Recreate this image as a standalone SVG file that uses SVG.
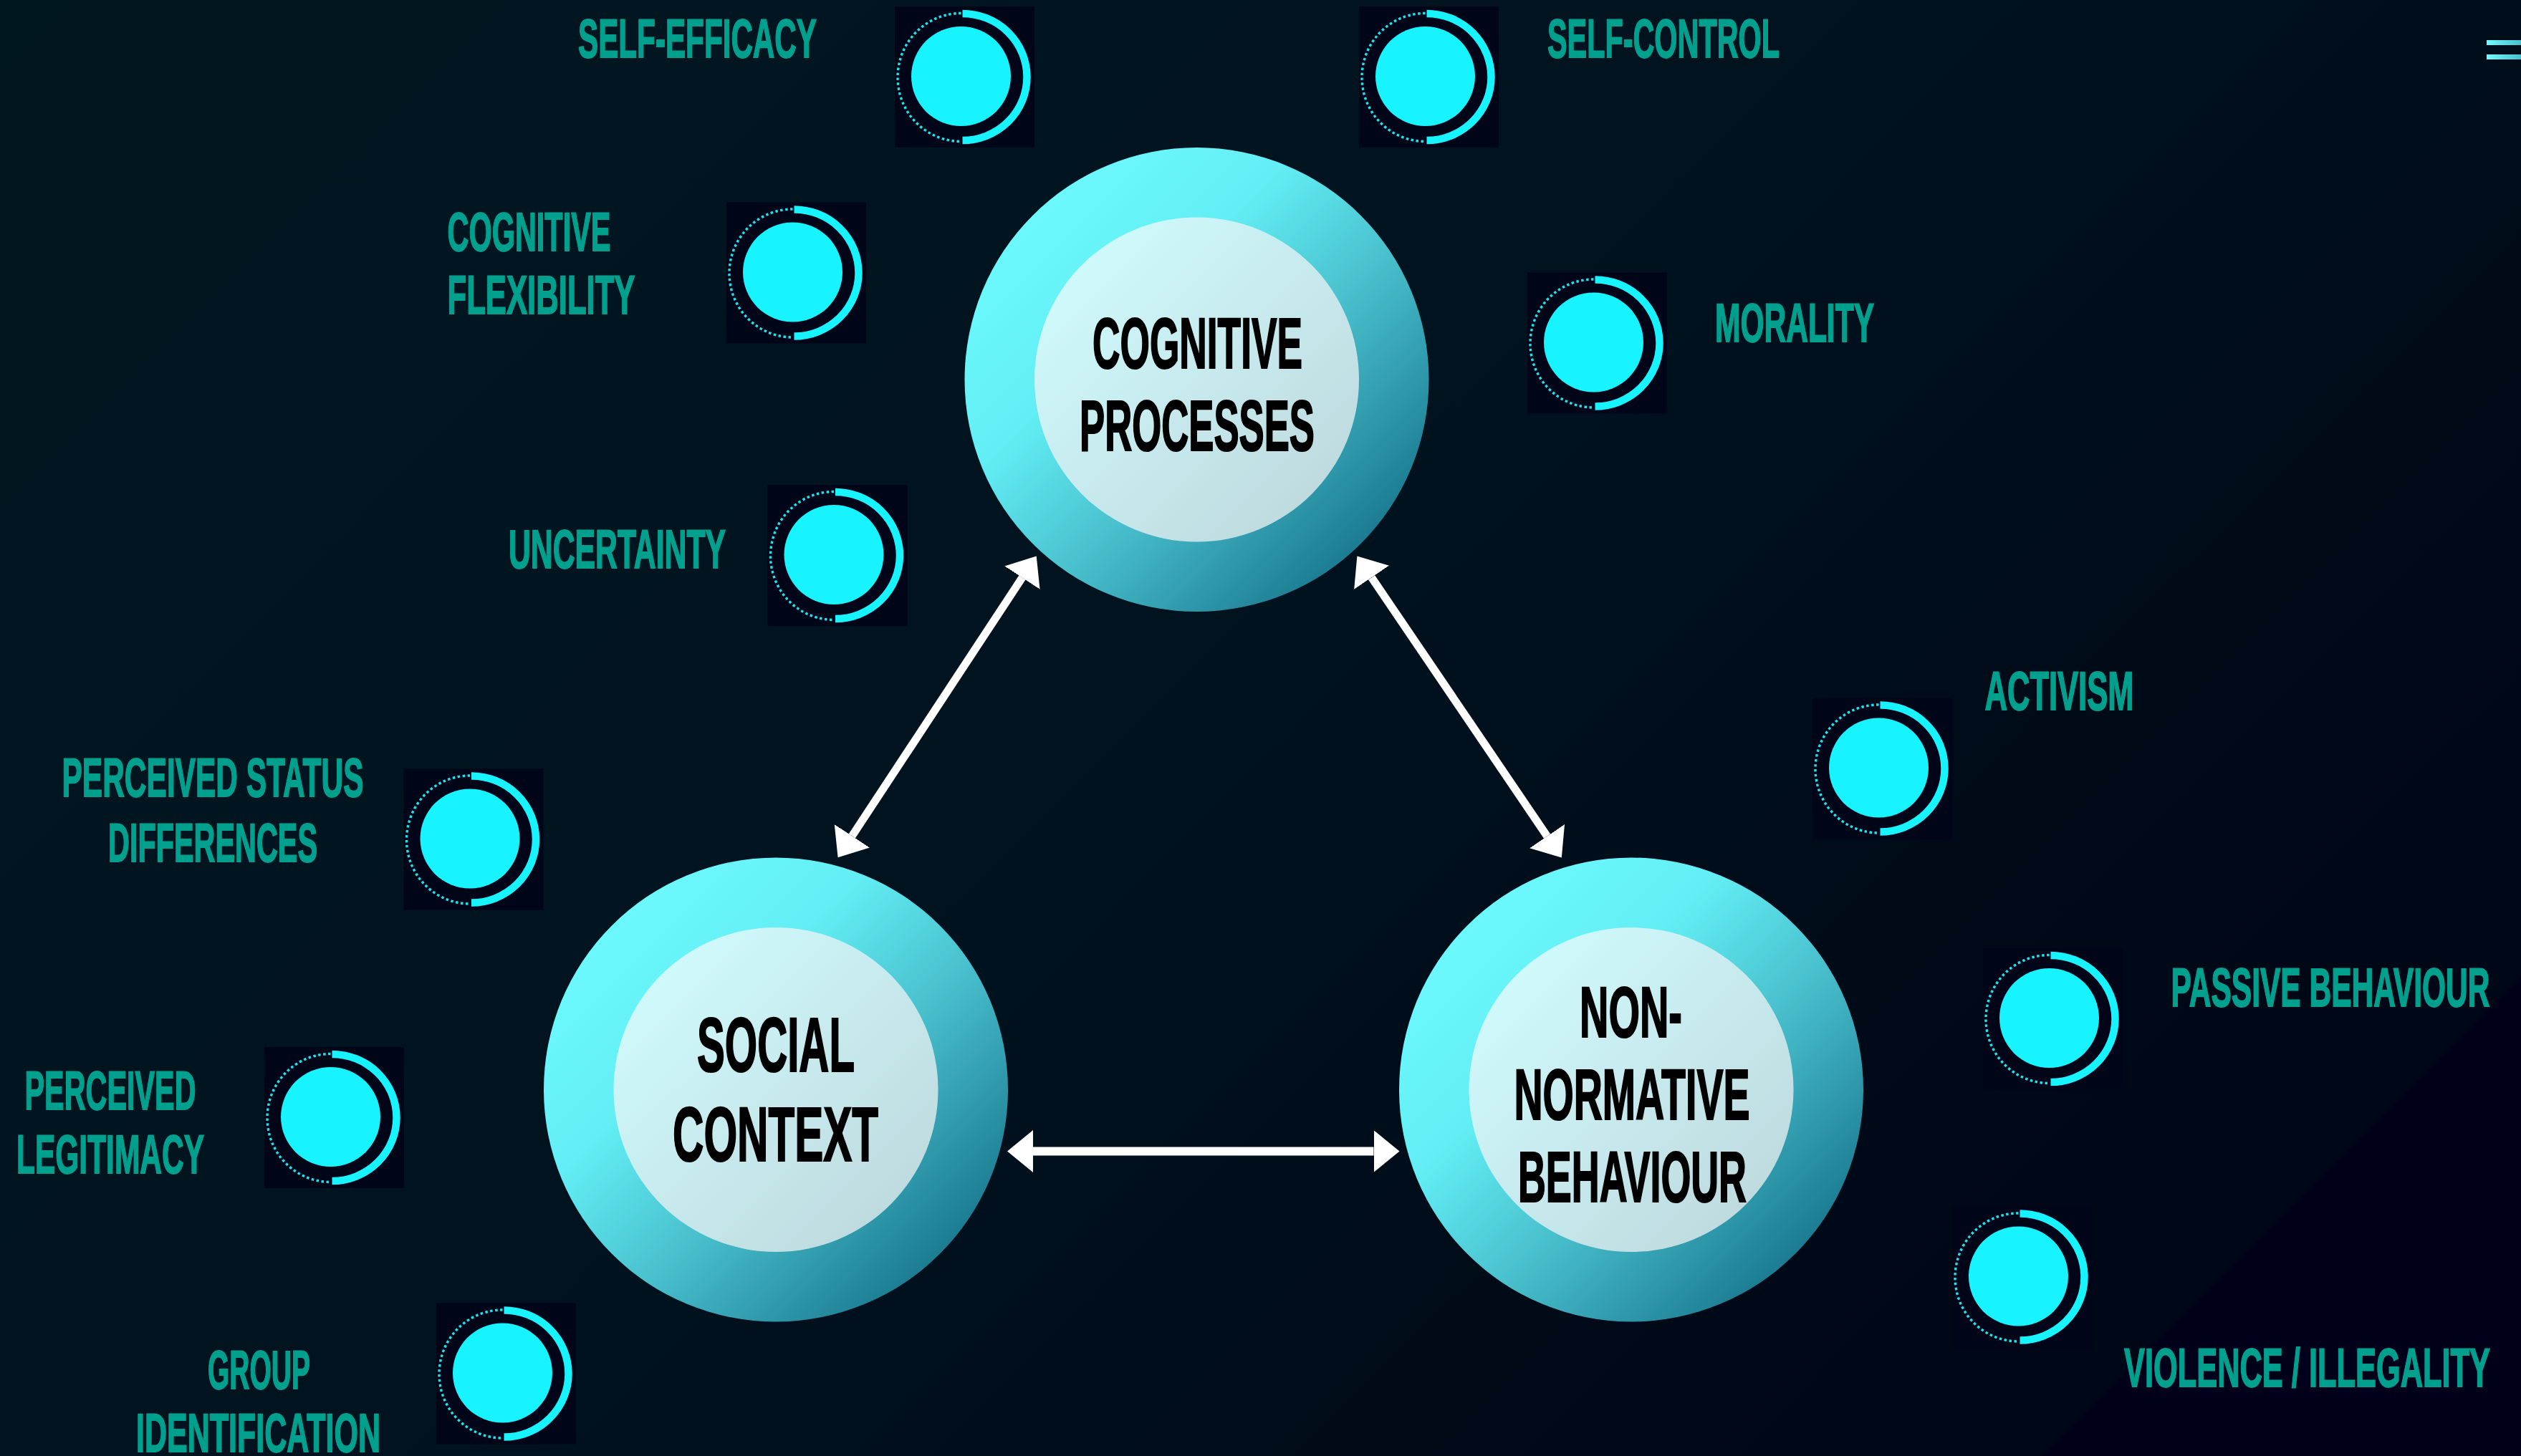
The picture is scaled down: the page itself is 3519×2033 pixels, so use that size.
<svg xmlns="http://www.w3.org/2000/svg" xmlns:xlink="http://www.w3.org/1999/xlink" width="3519" height="2033" viewBox="0 0 3519 2033">
<style>
text{font-family:"Liberation Sans Narrow","Liberation Sans",Arial,sans-serif;font-weight:700;}
.lbl{font-size:76px;fill:#00a08e;stroke:#00a08e;stroke-width:1.8px;}
.big{font-size:101px;fill:#000;stroke:#000;stroke-width:2.2px;}
.bg3{font-size:108px;fill:#000;stroke:#000;stroke-width:2.2px;}
.conn{stroke:#fff;fill:none;stroke-linecap:butt;}
.outer{fill:url(#gOuter);}
.inner{fill:url(#gInner);}
</style>
<defs>
<linearGradient id="bg" gradientUnits="userSpaceOnUse" x1="0" y1="0" x2="2776" y2="2776">
<stop offset="0" stop-color="#01171f"/>
<stop offset="0.197" stop-color="#011620"/>
<stop offset="0.5" stop-color="#00121e"/>
<stop offset="0.697" stop-color="#000b18"/>
<stop offset="0.879" stop-color="#000716"/>
<stop offset="0.88" stop-color="#00001a"/>
<stop offset="1" stop-color="#00001a"/>
</linearGradient>
<linearGradient id="gOuter" x1="0.146" y1="0.146" x2="0.854" y2="0.854">
<stop offset="0" stop-color="#6cf9fd"/>
<stop offset="0.3" stop-color="#62eef4"/>
<stop offset="0.6" stop-color="#49c0cd"/>
<stop offset="1" stop-color="#1c7c92"/>
</linearGradient>
<linearGradient id="gInner" x1="0.146" y1="0.146" x2="0.854" y2="0.854">
<stop offset="0" stop-color="#cff9fb"/>
<stop offset="1" stop-color="#bfdbe0"/>
</linearGradient>
<linearGradient id="gBar" x1="0" y1="0" x2="1" y2="0">
<stop offset="0" stop-color="#70fbff"/>
<stop offset="1" stop-color="#49bfce"/>
</linearGradient>
<marker id="head" markerUnits="userSpaceOnUse" markerWidth="40" markerHeight="64" refX="0" refY="32" orient="auto-start-reverse" viewBox="0 0 40 64">
<path d="M0,2.5 L36,32 L0,61.5 Z" fill="#fff"/>
</marker>
<g id="icon">
<rect x="-92.5" y="-97.5" width="195" height="197" fill="#000518"/>
<circle r="69.5" fill="#17f3ff"/>
<path d="M2,-87.5 A90,88.5 0 0 1 2,89.5" fill="none" stroke="#17f3ff" stroke-width="10.5"/>
<path d="M0,-88 A88.5,89.5 0 0 0 0,91" fill="none" stroke="#17e6f0" stroke-width="3.4" stroke-dasharray="3.5 3.5"/>
</g>
</defs>
<rect id="background" width="3519" height="2033" fill="url(#bg)"/>
<g id="menu-bars">
<rect x="3471" y="56" width="48" height="7" fill="url(#gBar)"/>
<rect x="3471" y="76" width="48" height="7" fill="url(#gBar)"/>
</g>
<g id="connectors">
<line class="conn" stroke-width="11" x1="1426.9" y1="806.6" x2="1189.4" y2="1167.3" marker-start="url(#head)" marker-end="url(#head)"/>
<line class="conn" stroke-width="11" x1="1914.6" y1="806.3" x2="2159.6" y2="1167.6" marker-start="url(#head)" marker-end="url(#head)"/>
<line class="conn" stroke-width="12" x1="1442" y1="1607.5" x2="1917.5" y2="1607.5" marker-start="url(#head)" marker-end="url(#head)"/>
</g>
<g id="node-cognitive-processes">
<circle class="outer" cx="1670.5" cy="530" r="324"/>
<circle class="inner" cx="1670.5" cy="530" r="226.5"/>
<text class="big" x="1525" y="514" textLength="293" lengthAdjust="spacingAndGlyphs">COGNITIVE</text>
<text class="big" x="1507" y="629" textLength="328" lengthAdjust="spacingAndGlyphs">PROCESSES</text>
</g>
<g id="node-social-context">
<circle class="outer" cx="1083" cy="1521.5" r="324"/>
<circle class="inner" cx="1083" cy="1521.5" r="226.5"/>
<text class="bg3" x="973" y="1496" textLength="220" lengthAdjust="spacingAndGlyphs">SOCIAL</text>
<text class="bg3" x="939" y="1621" textLength="287" lengthAdjust="spacingAndGlyphs">CONTEXT</text>
</g>
<g id="node-non-normative-behaviour">
<circle class="outer" cx="2277" cy="1521.5" r="324"/>
<circle class="inner" cx="2277" cy="1521.5" r="226.5"/>
<text class="big" x="2205" y="1448" textLength="143" lengthAdjust="spacingAndGlyphs">NON-</text>
<text class="big" x="2113.5" y="1563" textLength="329" lengthAdjust="spacingAndGlyphs">NORMATIVE</text>
<text class="big" x="2119" y="1678" textLength="319" lengthAdjust="spacingAndGlyphs">BEHAVIOUR</text>
</g>
<g id="node-self-efficacy"><use href="#icon" x="1341.5" y="106.5"/><text class="lbl" x="807" y="80" textLength="333" lengthAdjust="spacingAndGlyphs">SELF-EFFICACY</text></g>
<g id="node-self-control"><use href="#icon" x="1989.5" y="106.5"/><text class="lbl" x="2160" y="80" textLength="324" lengthAdjust="spacingAndGlyphs">SELF-CONTROL</text></g>
<g id="node-cognitive-flexibility"><use href="#icon" x="1106.5" y="380"/><text class="lbl" x="624.5" y="350" textLength="228" lengthAdjust="spacingAndGlyphs">COGNITIVE</text><text class="lbl" x="624.5" y="438" textLength="262" lengthAdjust="spacingAndGlyphs">FLEXIBILITY</text></g>
<g id="node-morality"><use href="#icon" x="2224.5" y="478"/><text class="lbl" x="2394" y="477" textLength="222" lengthAdjust="spacingAndGlyphs">MORALITY</text></g>
<g id="node-uncertainty"><use href="#icon" x="1164" y="774.5"/><text class="lbl" x="710" y="793" textLength="303" lengthAdjust="spacingAndGlyphs">UNCERTAINTY</text></g>
<g id="node-perceived-status"><use href="#icon" x="656" y="1171"/><text class="lbl" x="86.5" y="1112" textLength="421" lengthAdjust="spacingAndGlyphs">PERCEIVED STATUS</text><text class="lbl" x="151" y="1203" textLength="292" lengthAdjust="spacingAndGlyphs">DIFFERENCES</text></g>
<g id="node-perceived-legitimacy"><use href="#icon" x="461.5" y="1559.5"/><text class="lbl" x="34.5" y="1549" textLength="239" lengthAdjust="spacingAndGlyphs">PERCEIVED</text><text class="lbl" x="23" y="1638" textLength="262" lengthAdjust="spacingAndGlyphs">LEGITIMACY</text></g>
<g id="node-group-identification"><use href="#icon" x="701.5" y="1917"/><text class="lbl" x="290" y="1939" textLength="143" lengthAdjust="spacingAndGlyphs">GROUP</text><text class="lbl" x="190" y="2027" textLength="341" lengthAdjust="spacingAndGlyphs">IDENTIFICATION</text></g>
<g id="node-activism"><use href="#icon" x="2622.5" y="1072"/><text class="lbl" x="2770.5" y="991" textLength="208" lengthAdjust="spacingAndGlyphs">ACTIVISM</text></g>
<g id="node-passive-behaviour"><use href="#icon" x="2860.5" y="1421.5"/><text class="lbl" x="3030.5" y="1405" textLength="445" lengthAdjust="spacingAndGlyphs">PASSIVE BEHAVIOUR</text></g>
<g id="node-violence-illegality"><use href="#icon" x="2817.5" y="1782"/><text class="lbl" x="2965" y="1936" textLength="511" lengthAdjust="spacingAndGlyphs">VIOLENCE / ILLEGALITY</text></g>
</svg>
